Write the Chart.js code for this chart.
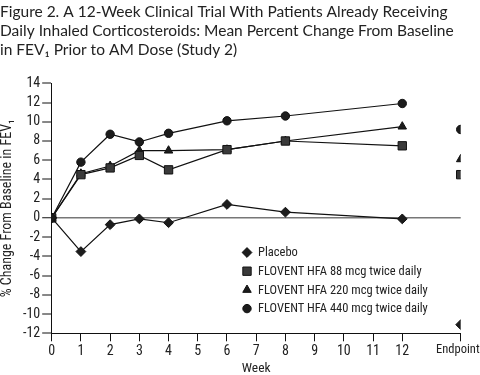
<!DOCTYPE html>
<html>
<head>
<meta charset="utf-8">
<script src="https://cdn.jsdelivr.net/npm/chart.js@4/dist/chart.umd.min.js"></script>
<style>
html,body{margin:0;padding:0;background:#fff;}
#wrap{width:480px;height:375px;position:relative;}
</style>
</head>
<body>
<div id="wrap"><canvas id="c" width="480" height="375"></canvas></div>
<script>
const weeks = [0, 1, 2, 3, 4, 6, 8, 12];
const endpointX = 14;
const xTickValues = [0,1,2,3,4,5,6,7,8,9,10,11,12,14];
const yTickValues = [-12,-10,-8,-6,-4,-2,0,2,4,6,8,10,12,14];

const seriesNames = [
  'Placebo',
  'FLOVENT HFA 88 mcg twice daily',
  'FLOVENT HFA 220 mcg twice daily',
  'FLOVENT HFA 440 mcg twice daily'
];
const placebo   = [0, -3.5, -0.7, -0.1, -0.5, 1.4, 0.6, -0.1];
const flo88     = [0, 4.5, 5.2, 6.5, 5.0, 7.1, 8.0, 7.5];
const flo220    = [0, 4.6, 5.4, 7.0, 7.0, 7.1, 8.0, 9.5];
const flo440    = [0, 5.8, 8.7, 7.9, 8.8, 10.1, 10.6, 11.9];
const endpointValues = [-11.1, 4.5, 6.1, 9.2];

const titleLines = [
  'Figure 2. A 12-Week Clinical Trial With Patients Already Receiving',
  'Daily Inhaled Corticosteroids: Mean Percent Change From Baseline',
  'in FEV\u2081 Prior to AM Dose (Study 2)'
];

const NARROW = '"Roboto Condensed", "Liberation Sans Narrow", sans-serif';
const FS = 12.5;
const TFS = 14;
const styles = ['rectRot', 'rect', 'triangle', 'circle'];
const radii = [4.9, 5.9, 4.9, 4.2];
const fills = ['#1c1c1c', '#3a3a3a', '#1c1c1c', '#1c1c1c'];

function buildData(vals, endVal) {
  const pts = weeks.map((w, i) => ({x: w, y: vals[i]}));
  pts.push({x: 13, y: null});
  pts.push({x: endpointX, y: endVal});
  return pts;
}
const allVals = [placebo, flo88, flo220, flo440];
const datasets = allVals.map((v, i) => ({
  label: seriesNames[i],
  data: buildData(v, endpointValues[i]),
  borderColor: '#111',
  borderWidth: 1.2,
  pointStyle: styles[i],
  pointRadius: radii[i],
  pointBackgroundColor: fills[i],
  pointBorderColor: '#111',
  pointBorderWidth: 1,
  spanGaps: false,
  tension: 0
}));

const legendPlugin = {
  id: 'customLegend',
  afterDraw(chart) {
    const ctx = chart.ctx;
    const x0 = 247, y0 = 252.5, dy = 18.7;
    ctx.save();
    ctx.font = FS + 'px ' + NARROW;
    ctx.textBaseline = 'middle';
    ctx.textAlign = 'left';
    seriesNames.forEach((name, i) => {
      const y = y0 + i * dy;
      ctx.fillStyle = fills[i];
      ctx.strokeStyle = '#111';
      ctx.lineWidth = 1;
      Chart.helpers.drawPoint(ctx, {pointStyle: styles[i], radius: radii[i], rotation: 0, borderWidth: 1}, x0, y);
      ctx.fillStyle = '#222';
      ctx.fillText(name, x0 + 11, y + 0.5);
    });
    ctx.restore();
  }
};

new Chart(document.getElementById('c'), {
  type: 'line',
  data: {datasets},
  plugins: [legendPlugin],
  options: {
    responsive: false,
    animation: false,
    layout: {padding: {left: 0, right: 0, top: 0, bottom: 0}},
    plugins: {
      legend: {display: false},
      tooltip: {enabled: false},
      title: {
        display: true,
        text: titleLines,
        align: 'start',
        color: '#222',
        font: {family: 'Lato, "Open Sans", sans-serif', size: 15.5, weight: 'normal', lineHeight: '19px'},
        padding: {top: 2, bottom: 24.3}
      }
    },
    scales: {
      x: {
        type: 'linear',
        min: 0,
        max: 14,
        afterBuildTicks(axis) { axis.ticks = xTickValues.map(v => ({value: v})); },
        afterFit(axis) { axis.height = 41.7; axis.paddingRight = 19.3; axis.paddingLeft = 0; },
        ticks: {
          color: '#222',
          font: c => ({family: NARROW, size: (c.tick && c.tick.value === endpointX) ? 12.5 : TFS}),
          padding: 1.5,
          maxRotation: 0,
          autoSkip: false,
          callback: v => v === endpointX ? 'Endpoint\u00a0\u00a0' : String(v)
        },
        grid: {drawOnChartArea: false, drawTicks: true, tickLength: 8, tickColor: '#111', tickWidth: 1},
        border: {display: true, color: '#111', width: 1},
        title: {display: true, text: 'Week', color: '#222', font: {family: NARROW, size: 13.5, lineHeight: 1}, padding: {top: 0, bottom: 0}}
      },
      y: {
        min: -12,
        max: 14,
        afterBuildTicks(axis) { axis.ticks = yTickValues.map(v => ({value: v})); },
        afterFit(axis) { axis.width = 51.7; axis.paddingTop = 0; axis.paddingBottom = 0; },
        ticks: {
          color: '#222',
          font: {family: NARROW, size: TFS, lineHeight: 1},
          padding: 2,
          autoSkip: false
        },
        grid: {
          drawOnChartArea: true,
          drawTicks: true,
          tickLength: 9.5,
          color: c => (c.tick && c.tick.value === 0) ? '#777' : 'rgba(0,0,0,0)',
          lineWidth: c => (c.tick && c.tick.value === 0) ? 1.5 : 0,
          tickColor: '#111',
          tickWidth: 1
        },
        border: {display: true, color: '#111', width: 1},
        title: {display: true, text: '% Change From Baseline in FEV\u2081', color: '#222', font: {family: NARROW, size: 14, lineHeight: 1}, padding: {top: 0, bottom: 0}}
      }
    }
  }
});
</script>
</body>
</html>
